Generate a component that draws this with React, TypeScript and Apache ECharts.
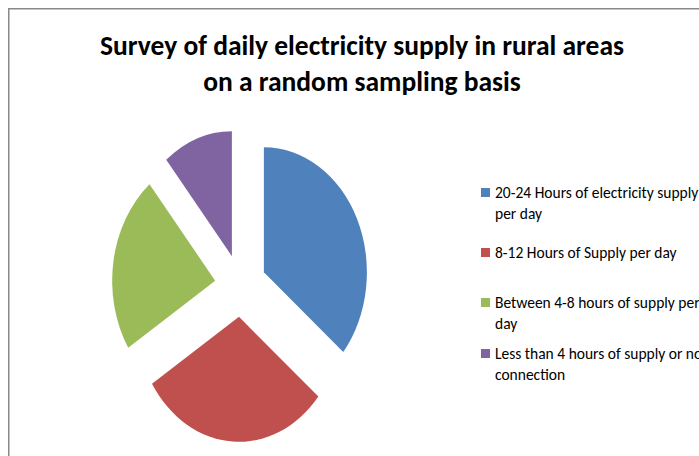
import React, { useEffect, useRef } from "react";
import * as echarts from "echarts";

// Survey shares (percent of sampled households)
const categories = [
  "20-24 Hours of electricity supply per day",
  "8-12 Hours of Supply per day",
  "Between 4-8 hours of supply per day",
  "Less than 4 hours of supply or no connection",
];
const shares = [36, 30, 23, 11];
// Legend entries as they wrap in the legend box
const legendLines = [
  ["20-24 Hours of electricity supply", "per day"],
  ["8-12 Hours of Supply per day"],
  ["Between 4-8 hours of supply per", "day"],
  ["Less than 4 hours of supply or no", "connection"],
];
const sliceColors = ["#4F81BD", "#C0504D", "#9BBB59", "#8064A2"];
const titleLines = [
  "Survey of daily electricity supply in rural areas",
  "on a random sampling basis",
];

// Layout of the elliptical exploded pie
const CX = 240.6;
const CY = 285.6;
const RX = 103;
const RY = 125;
const EXPLODE = 0.25;

const legendTops = [161, 242, 271, 322];
const FONT = "Carlito, Lato, 'Open Sans', sans-serif";

const total = shares.reduce((a, b) => a + b, 0);

const renderSlice = (idx: number) => (params: any, api: any) => {
  const before = shares.slice(0, idx).reduce((a, b) => a + b, 0);
  const v = api.value(0);
  const start = -Math.PI / 2 + (2 * Math.PI * before) / total;
  const end = start + (2 * Math.PI * v) / total;
  const mid = (start + end) / 2;
  const off = EXPLODE * RX;
  return {
    type: "sector",
    x: CX,
    y: CY,
    scaleY: RY / RX,
    shape: {
      cx: off * Math.cos(mid),
      cy: off * Math.sin(mid),
      r0: 0,
      r: RX,
      startAngle: start,
      endAngle: end,
      clockwise: true,
    },
    style: { fill: api.visual("color") },
  };
};

// Multi-line entries get a leading empty line so the marker sits beside the first line
const legendText = (lines: string[]) =>
  lines.length > 1 ? "\n" + lines.join("\n") : lines[0];

export default function App() {
  const ref = useRef<HTMLDivElement>(null);

  useEffect(() => {
    if (!ref.current) return;
    const chart = echarts.init(ref.current, undefined, { renderer: "svg" });
    chart.setOption({
      animation: false,
      backgroundColor: "#ffffff",
      title: {
        text: titleLines.join("\n"),
        left: 362,
        top: 27,
        textAlign: "center",
        padding: 0,
        textStyle: {
          fontFamily: FONT,
          fontWeight: "bold",
          fontSize: 27.5,
          lineHeight: 36.5,
          color: "#000000",
        },
      },
      legend: categories.map((name, i) => ({
        data: [name],
        left: 481,
        top: legendTops[i],
        orient: "vertical",
        icon: "rect",
        itemWidth: 9,
        itemHeight: 9,
        padding: 0,
        selectedMode: false,
        formatter: () => legendText(legendLines[i]),
        textStyle: {
          fontFamily: FONT,
          fontSize: 15.5,
          color: "#000000",
          lineHeight: 21,
        },
      })),
      graphic: [
        {
          type: "rect",
          shape: { x: 8.75, y: 8.75, width: 800, height: 600 },
          style: { fill: "none", stroke: "#888888", lineWidth: 1.5 },
          silent: true,
        },
      ],
      series: categories.map((name, i) => ({
        type: "custom",
        name,
        coordinateSystem: "none",
        renderItem: renderSlice(i),
        data: [[shares[i]]],
        itemStyle: { color: sliceColors[i] },
        silent: true,
      })),
    });
    return () => chart.dispose();
  }, []);

  return (
    <div
      ref={ref}
      style={{ position: "absolute", left: 0, top: 0, width: 699, height: 456 }}
    />
  );
}
